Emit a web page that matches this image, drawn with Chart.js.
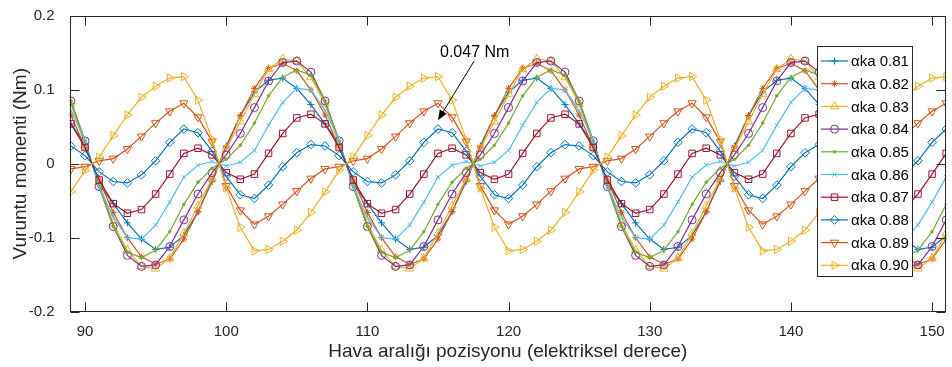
<!DOCTYPE html>
<html>
<head>
<meta charset="utf-8">
<script src="https://cdn.jsdelivr.net/npm/chart.js@4.4.1/dist/chart.umd.min.js"></script>
<style>
  html, body { margin: 0; padding: 0; background: #fff; }
  #wrap { width: 952px; height: 367px; }
</style>
</head>
<body>
<div id="wrap"><canvas id="grafik" width="952" height="367"></canvas></div>
<script>
// Hava aralığı pozisyonu (elektriksel derece)
const xValues = [89, 90, 91, 92, 93, 94, 95, 96, 97, 98, 99, 100, 101, 102, 103, 104, 105, 106, 107, 108,
  109, 110, 111, 112, 113, 114, 115, 116, 117, 118, 119, 120, 121, 122, 123, 124, 125, 126, 127, 128,
  129, 130, 131, 132, 133, 134, 135, 136, 137, 138, 139, 140, 141, 142, 143, 144, 145, 146, 147, 148,
  149, 150, 151];

const seriesNames = ['αka 0.81', 'αka 0.82', 'αka 0.83', 'αka 0.84', 'αka 0.85',
  'αka 0.86', 'αka 0.87', 'αka 0.88', 'αka 0.89', 'αka 0.90'];

// Vuruntu momenti (Nm)
const aka081 = [0.054, 0.027,
  -0.027, -0.054, -0.080, -0.102, -0.116, -0.113, -0.097, -0.065, -0.024,
  0.024, 0.065, 0.097, 0.113, 0.116, 0.102, 0.080, 0.054, 0.027,
  -0.027, -0.054, -0.080, -0.102, -0.116, -0.113, -0.097, -0.065, -0.024,
  0.024, 0.065, 0.097, 0.113, 0.116, 0.102, 0.080, 0.054, 0.027,
  -0.027, -0.054, -0.080, -0.102, -0.116, -0.113, -0.097, -0.065, -0.024,
  0.024, 0.065, 0.097, 0.113, 0.116, 0.102, 0.080, 0.054, 0.027,
  -0.027, -0.054, -0.080, -0.102, -0.116, -0.113, -0.097];
const aka082 = [0.066, 0.022,
  -0.022, -0.066, -0.100, -0.126, -0.136, -0.129, -0.102, -0.065, -0.022,
  0.022, 0.065, 0.102, 0.129, 0.136, 0.126, 0.100, 0.066, 0.022,
  -0.022, -0.066, -0.100, -0.126, -0.136, -0.129, -0.102, -0.065, -0.022,
  0.022, 0.065, 0.102, 0.129, 0.136, 0.126, 0.100, 0.066, 0.022,
  -0.022, -0.066, -0.100, -0.126, -0.136, -0.129, -0.102, -0.065, -0.022,
  0.022, 0.065, 0.102, 0.129, 0.136, 0.126, 0.100, 0.066, 0.022,
  -0.022, -0.066, -0.100, -0.126, -0.136, -0.129, -0.102];
const aka083 = [0.081, 0.025,
  -0.025, -0.081, -0.117, -0.139, -0.142, -0.128, -0.094, -0.057, -0.020,
  0.020, 0.057, 0.094, 0.128, 0.142, 0.139, 0.117, 0.081, 0.025,
  -0.025, -0.081, -0.117, -0.139, -0.142, -0.128, -0.094, -0.057, -0.020,
  0.020, 0.057, 0.094, 0.128, 0.142, 0.139, 0.117, 0.081, 0.025,
  -0.025, -0.081, -0.117, -0.139, -0.142, -0.128, -0.094, -0.057, -0.020,
  0.020, 0.057, 0.094, 0.128, 0.142, 0.139, 0.117, 0.081, 0.025,
  -0.025, -0.081, -0.117, -0.139, -0.142, -0.128, -0.094];
const aka084 = [0.085, 0.031,
  -0.031, -0.085, -0.124, -0.139, -0.137, -0.112, -0.076, -0.041, -0.012,
  0.012, 0.041, 0.076, 0.112, 0.137, 0.139, 0.124, 0.085, 0.031,
  -0.031, -0.085, -0.124, -0.139, -0.137, -0.112, -0.076, -0.041, -0.012,
  0.012, 0.041, 0.076, 0.112, 0.137, 0.139, 0.124, 0.085, 0.031,
  -0.031, -0.085, -0.124, -0.139, -0.137, -0.112, -0.076, -0.041, -0.012,
  0.012, 0.041, 0.076, 0.112, 0.137, 0.139, 0.124, 0.085, 0.031,
  -0.031, -0.085, -0.124, -0.139, -0.137, -0.112, -0.076];
const aka085 = [0.085, 0.031,
  -0.031, -0.085, -0.120, -0.127, -0.117, -0.092, -0.055, -0.025, -0.006,
  0.006, 0.025, 0.055, 0.092, 0.117, 0.127, 0.120, 0.085, 0.031,
  -0.031, -0.085, -0.120, -0.127, -0.117, -0.092, -0.055, -0.025, -0.006,
  0.006, 0.025, 0.055, 0.092, 0.117, 0.127, 0.120, 0.085, 0.031,
  -0.031, -0.085, -0.120, -0.127, -0.117, -0.092, -0.055, -0.025, -0.006,
  0.006, 0.025, 0.055, 0.092, 0.117, 0.127, 0.120, 0.085, 0.031,
  -0.031, -0.085, -0.120, -0.127, -0.117, -0.092, -0.055];
const aka086 = [0.072, 0.032,
  -0.032, -0.072, -0.100, -0.102, -0.083, -0.052, -0.018, -0.002, 0.003,
  -0.003, 0.002, 0.018, 0.052, 0.083, 0.102, 0.100, 0.072, 0.032,
  -0.032, -0.072, -0.100, -0.102, -0.083, -0.052, -0.018, -0.002, 0.003,
  -0.003, 0.002, 0.018, 0.052, 0.083, 0.102, 0.100, 0.072, 0.032,
  -0.032, -0.072, -0.100, -0.102, -0.083, -0.052, -0.018, -0.002, 0.003,
  -0.003, 0.002, 0.018, 0.052, 0.083, 0.102, 0.100, 0.072, 0.032,
  -0.032, -0.072, -0.100, -0.102, -0.083, -0.052, -0.018];
const aka087 = [0.054, 0.022,
  -0.022, -0.054, -0.067, -0.062, -0.041, -0.014, 0.014, 0.021, 0.012,
  -0.012, -0.021, -0.014, 0.014, 0.041, 0.062, 0.067, 0.054, 0.022,
  -0.022, -0.054, -0.067, -0.062, -0.041, -0.014, 0.014, 0.021, 0.012,
  -0.012, -0.021, -0.014, 0.014, 0.041, 0.062, 0.067, 0.054, 0.022,
  -0.022, -0.054, -0.067, -0.062, -0.041, -0.014, 0.014, 0.021, 0.012,
  -0.012, -0.021, -0.014, 0.014, 0.041, 0.062, 0.067, 0.054, 0.022,
  -0.022, -0.054, -0.067, -0.062, -0.041, -0.014, 0.014];
const aka088 = [0.024, 0.011,
  -0.011, -0.024, -0.026, -0.015, 0.004, 0.029, 0.047, 0.042, 0.017,
  -0.017, -0.042, -0.047, -0.029, -0.004, 0.015, 0.026, 0.024, 0.011,
  -0.011, -0.024, -0.026, -0.015, 0.004, 0.029, 0.047, 0.042, 0.017,
  -0.017, -0.042, -0.047, -0.029, -0.004, 0.015, 0.026, 0.024, 0.011,
  -0.011, -0.024, -0.026, -0.015, 0.004, 0.029, 0.047, 0.042, 0.017,
  -0.017, -0.042, -0.047, -0.029, -0.004, 0.015, 0.026, 0.024, 0.011,
  -0.011, -0.024, -0.026, -0.015, 0.004, 0.029, 0.047];
const aka089 = [-0.007, -0.004,
  0.004, 0.007, 0.020, 0.037, 0.055, 0.071, 0.082, 0.063, 0.030,
  -0.030, -0.063, -0.082, -0.071, -0.055, -0.037, -0.020, -0.007, -0.004,
  0.004, 0.007, 0.020, 0.037, 0.055, 0.071, 0.082, 0.063, 0.030,
  -0.030, -0.063, -0.082, -0.071, -0.055, -0.037, -0.020, -0.007, -0.004,
  0.004, 0.007, 0.020, 0.037, 0.055, 0.071, 0.082, 0.063, 0.030,
  -0.030, -0.063, -0.082, -0.071, -0.055, -0.037, -0.020, -0.007, -0.004,
  0.004, 0.007, 0.020, 0.037, 0.055, 0.071, 0.082];
const aka090 = [-0.038, -0.009,
  0.009, 0.038, 0.066, 0.090, 0.105, 0.116, 0.118, 0.086, 0.033,
  -0.033, -0.086, -0.118, -0.116, -0.105, -0.090, -0.066, -0.038, -0.009,
  0.009, 0.038, 0.066, 0.090, 0.105, 0.116, 0.118, 0.086, 0.033,
  -0.033, -0.086, -0.118, -0.116, -0.105, -0.090, -0.066, -0.038, -0.009,
  0.009, 0.038, 0.066, 0.090, 0.105, 0.116, 0.118, 0.086, 0.033,
  -0.033, -0.086, -0.118, -0.116, -0.105, -0.090, -0.066, -0.038, -0.009,
  0.009, 0.038, 0.066, 0.090, 0.105, 0.116, 0.118];

const seriesValues = [aka081, aka082, aka083, aka084, aka085, aka086, aka087, aka088, aka089, aka090];

const xTicks = [90, 100, 110, 120, 130, 140, 150];
const yTicks = [-0.2, -0.1, 0, 0.1, 0.2];
const yTickLabels = ['-0.2', '-0.1', '0', '0.1', '0.2'];

// MATLAB varsayılan renkleri ve işaretçiler
const colors = ['#0072BD', '#D95319', '#EDB120', '#7E2F8E', '#77AC30',
  '#4DBEEE', '#A2142F', '#0072BD', '#D95319', '#EDB120'];
const markers = [
  { style: 'cross', r: 3.5, rot: 0, fill: false },
  { style: 'star', r: 3.3, rot: 0, fill: false },
  { style: 'triangle', r: 4.8, rot: 0, fill: false },
  { style: 'circle', r: 4, rot: 0, fill: false },
  { style: 'circle', r: 1.3, rot: 0, fill: true },
  { style: 'crossRot', r: 3, rot: 0, fill: false },
  { style: 'rect', r: 4.6, rot: 0, fill: false },
  { style: 'rectRot', r: 4.3, rot: 0, fill: false },
  { style: 'triangle', r: 4.8, rot: 180, fill: false },
  { style: 'triangle', r: 4.8, rot: 90, fill: false }
];

const FONT = "'Liberation Sans', Arial, sans-serif";
Chart.defaults.font.family = FONT;
Chart.defaults.color = '#262626';

const datasets = seriesNames.map((name, i) => ({
  label: name,
  data: xValues.map((x, k) => ({ x: x, y: seriesValues[i][k] })),
  borderColor: colors[i],
  borderWidth: 1.2,
  tension: 0,
  fill: false,
  pointStyle: markers[i].style,
  pointRadius: markers[i].r,
  pointRotation: markers[i].rot,
  pointBorderWidth: 1,
  pointBorderColor: colors[i],
  pointBackgroundColor: markers[i].fill ? colors[i] : 'rgba(0,0,0,0)',
  order: 10 - i
}));

// Kutu çerçevesi ve içe dönük tikler
const matlabFrame = {
  id: 'matlabFrame',
  afterDatasetsDraw(chart) {
    const { ctx, chartArea: a, scales: { x, y } } = chart;
    ctx.save();
    ctx.strokeStyle = '#262626';
    ctx.lineWidth = 1;
    const L = Math.round(a.left) + 0.5, R = Math.round(a.right) - 0.5;
    const T = Math.round(a.top) + 0.5, B = Math.round(a.bottom) - 0.5;
    ctx.strokeRect(L, T, R - L, B - T);
    ctx.beginPath();
    xTicks.forEach(v => {
      const px = Math.round(x.getPixelForValue(v)) + 0.5;
      ctx.moveTo(px, B); ctx.lineTo(px, B - 9);
      ctx.moveTo(px, T); ctx.lineTo(px, T + 9);
    });
    yTicks.forEach(v => {
      const py = Math.round(y.getPixelForValue(v)) + 0.5;
      ctx.moveTo(L, py); ctx.lineTo(L + 9, py);
      ctx.moveTo(R, py); ctx.lineTo(R - 9, py);
    });
    ctx.stroke();

    // 0.047 Nm notu ve ok
    const x0 = x.getPixelForValue(117.56), y0 = y.getPixelForValue(0.139);
    const x1 = x.getPixelForValue(115.0), y1 = y.getPixelForValue(0.059);
    const ang = Math.atan2(y1 - y0, x1 - x0);
    ctx.strokeStyle = '#000';
    ctx.fillStyle = '#000';
    ctx.lineWidth = 1;
    ctx.beginPath();
    ctx.moveTo(x0, y0);
    ctx.lineTo(x1 - 8 * Math.cos(ang), y1 - 8 * Math.sin(ang));
    ctx.stroke();
    ctx.beginPath();
    ctx.moveTo(x1, y1);
    ctx.lineTo(x1 - 10 * Math.cos(ang) + 4 * Math.sin(ang), y1 - 10 * Math.sin(ang) - 4 * Math.cos(ang));
    ctx.lineTo(x1 - 10 * Math.cos(ang) - 4 * Math.sin(ang), y1 - 10 * Math.sin(ang) + 4 * Math.cos(ang));
    ctx.closePath();
    ctx.fill();
    ctx.font = '16px ' + FONT;
    ctx.textAlign = 'center';
    ctx.textBaseline = 'middle';
    ctx.fillText('0.047 Nm', x.getPixelForValue(117.6), y.getPixelForValue(0.151));
    ctx.restore();
  }
};

// MATLAB tarzı lejant (çizgi + işaretçi)
const matlabLegend = {
  id: 'matlabLegend',
  afterDraw(chart) {
    const ctx = chart.ctx;
    const left = 817.5, top = 46.5, w = 95, h = 230;
    ctx.save();
    ctx.fillStyle = '#fff';
    ctx.fillRect(left, top, w, h);
    ctx.strokeStyle = '#262626';
    ctx.lineWidth = 1;
    ctx.strokeRect(left, top, w, h);
    ctx.font = '15px ' + FONT;
    ctx.textBaseline = 'middle';
    ctx.textAlign = 'left';
    chart.data.datasets.forEach((ds, i) => {
      const cy = 61 + i * 22.7;
      ctx.strokeStyle = ds.borderColor;
      ctx.lineWidth = ds.borderWidth;
      ctx.beginPath();
      ctx.moveTo(821, cy);
      ctx.lineTo(848, cy);
      ctx.stroke();
      ctx.fillStyle = ds.pointBackgroundColor;
      ctx.strokeStyle = ds.pointBorderColor;
      ctx.lineWidth = 1;
      Chart.helpers.drawPoint(ctx, {
        pointStyle: ds.pointStyle, radius: ds.pointRadius,
        rotation: ds.pointRotation, borderWidth: 1
      }, 834.5, cy);
      ctx.fillStyle = '#000';
      ctx.fillText(ds.label, 851, cy + 1);
    });
    ctx.restore();
  }
};

new Chart(document.getElementById('grafik'), {
  type: 'line',
  data: { datasets: datasets },
  plugins: [matlabFrame, matlabLegend],
  options: {
    responsive: false,
    animation: false,
    events: [],
    layout: { padding: { top: 13, right: 3.5, left: 0, bottom: 0 } },
    plugins: { legend: { display: false }, tooltip: { enabled: false } },
    scales: {
      x: {
        type: 'linear',
        min: 88.9,
        max: 151,
        afterBuildTicks: s => { s.ticks = xTicks.map(v => ({ value: v })); },
        afterFit: s => { s.height = 55.5; },
        grid: { display: false },
        border: { display: false },
        ticks: { font: { size: 15 }, color: '#262626', padding: 3, maxRotation: 0, autoSkip: false },
        title: { display: true, text: 'Hava aralığı pozisyonu (elektriksel derece)', font: { size: 19 }, color: '#262626', padding: { top: 0, bottom: 4 } }
      },
      y: {
        min: -0.2,
        max: 0.2,
        afterBuildTicks: s => { s.ticks = yTicks.map(v => ({ value: v })); },
        afterFit: s => { s.width = 69.5; },
        grid: { display: false },
        border: { display: false },
        ticks: {
          font: { size: 15 }, color: '#262626', padding: 7,
          callback: v => yTickLabels[yTicks.indexOf(Math.round(v * 10) / 10)]
        },
        title: { display: true, text: 'Vuruntu momenti (Nm)', font: { size: 19 }, color: '#262626', padding: { top: 9, bottom: 0 } }
      }
    }
  }
});
</script>
</body>
</html>
